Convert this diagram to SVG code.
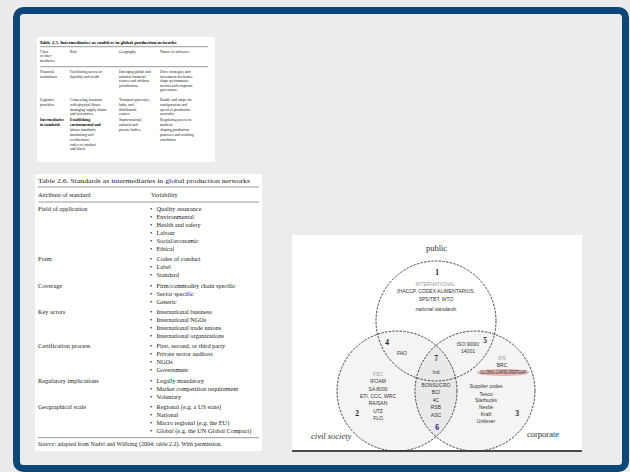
<svg xmlns="http://www.w3.org/2000/svg" width="630" height="472" viewBox="0 0 630 472">
<defs>
<style>
.t1{font-family:"Liberation Serif","Times New Roman",serif;font-size:3.8px;fill:#222}
.t1b{font-family:"Liberation Serif","Times New Roman",serif;font-size:3.8px;fill:#000;font-weight:bold}
.t2{font-family:"Liberation Serif","Times New Roman",serif;font-size:6.3px;fill:#222}
.rule{stroke:#555;stroke-width:0.6}
.vt{font-family:"Liberation Sans",Arial,sans-serif;font-size:5px;fill:#333;text-anchor:middle}
.vg{font-family:"Liberation Sans",Arial,sans-serif;font-size:5px;fill:#999;text-anchor:middle}
.num{font-family:"Liberation Serif","Times New Roman",serif;font-size:7.5px;font-weight:bold;fill:#222;text-anchor:middle}
.lab{font-family:"Liberation Serif","Times New Roman",serif;font-size:8.5px;fill:#333}
.circ{stroke:#333;stroke-width:0.9;stroke-dasharray:2.5 1.2}
</style>
</defs>
<rect x="0" y="0" width="630" height="472" fill="#ebebeb"/>
<rect id="frame" x="16.5" y="10.5" width="609" height="458" rx="7" fill="#ececec" stroke="#0d4777" stroke-width="7"/>

<g id="table1">
<rect x="37" y="37" width="178" height="125" fill="#ffffff"/>
<text class="t1b" x="39.5" y="43.7" textLength="137" lengthAdjust="spacingAndGlyphs" font-weight="normal">Table 2.5. Intermediaries as enablers in global production networks</text>
<line class="rule" x1="40" y1="46.7" x2="208" y2="46.7"/>
<text class="t1" x="40" y="53">Class</text>
<text class="t1" x="40" y="57.4">of inter-</text>
<text class="t1" x="40" y="62">mediaries</text>
<text class="t1" x="70" y="53">Role</text>
<text class="t1" x="119" y="53">Geography</text>
<text class="t1" x="160" y="53">Nature of influence</text>
<line class="rule" x1="40" y1="66.7" x2="208" y2="66.7"/>
<text class="t1" x="40" y="73">Financial</text>
<text class="t1" x="40" y="77.6">institutions</text>
<text class="t1" x="70" y="73">Facilitating access to</text>
<text class="t1" x="70" y="77.6">liquidity and credit</text>
<text class="t1" x="119" y="73">Emerging global and</text>
<text class="t1" x="119" y="77.6">national financial</text>
<text class="t1" x="119" y="82.2">centres and offshore</text>
<text class="t1" x="119" y="86.8">jurisdictions</text>
<text class="t1" x="160" y="73">Drive strategies and</text>
<text class="t1" x="160" y="77.6">investment decisions;</text>
<text class="t1" x="160" y="82.2">shape performance</text>
<text class="t1" x="160" y="86.8">metrics and corporate</text>
<text class="t1" x="160" y="91.4">governance</text>
<text class="t1" x="40" y="101.3">Logistics</text>
<text class="t1" x="40" y="105.9">providers</text>
<text class="t1" x="70" y="101.3">Connecting locations</text>
<text class="t1" x="70" y="105.9">with physical flows;</text>
<text class="t1" x="70" y="110.5">managing supply chains</text>
<text class="t1" x="70" y="115.1">and inventories</text>
<text class="t1" x="119" y="101.3">Transport gateways,</text>
<text class="t1" x="119" y="105.9">hubs, and</text>
<text class="t1" x="119" y="110.5">distribution</text>
<text class="t1" x="119" y="115.1">centres</text>
<text class="t1" x="160" y="101.3">Enable and shape the</text>
<text class="t1" x="160" y="105.9">configuration and</text>
<text class="t1" x="160" y="110.5">speed of production</text>
<text class="t1" x="160" y="115.1">networks</text>
<text class="t1b" x="40" y="121.3">Intermediaries</text>
<text class="t1b" x="40" y="126.15">in standards</text>
<text class="t1b" x="70" y="121.3">Establishing</text>
<text class="t1b" x="70" y="126.15">environmental and</text>
<text class="t1" x="70" y="131">labour standards;</text>
<text class="t1" x="70" y="135.85">monitoring and</text>
<text class="t1" x="70" y="140.7">certification;</text>
<text class="t1" x="70" y="145.55">codes of conduct</text>
<text class="t1" x="70" y="150.4">and labels</text>
<text class="t1" x="119" y="121.3">Supra-national,</text>
<text class="t1" x="119" y="126.15">national and</text>
<text class="t1" x="119" y="131">private bodies</text>
<text class="t1" x="160" y="121.3">Regulating access to</text>
<text class="t1" x="160" y="126.15">markets;</text>
<text class="t1" x="160" y="131">shaping production</text>
<text class="t1" x="160" y="135.85">practices and working</text>
<text class="t1" x="160" y="140.7">conditions</text>
</g>

<g id="table2">
<rect x="35" y="174" width="227" height="277" fill="#ffffff"/>
<text class="t2" x="38" y="182.5" font-size="6.8" textLength="212" lengthAdjust="spacingAndGlyphs">Table 2.6.  Standards as intermediaries in global production networks</text>
<line class="rule" x1="38" y1="187" x2="259" y2="187"/>
<text class="t2" x="38" y="196.5">Attribute of standard</text>
<text class="t2" x="151" y="196.5">Variability</text>
<line class="rule" x1="38" y1="202" x2="259" y2="202"/>
<text class="t2" x="38" y="211.2">Field of application</text>
<text class="t2" x="38" y="261.3">Form</text>
<text class="t2" x="38" y="287.7">Coverage</text>
<text class="t2" x="38" y="314.1">Key actors</text>
<text class="t2" x="38" y="348.4">Certification process</text>
<text class="t2" x="38" y="382.7">Regulatory implications</text>
<text class="t2" x="38" y="409.1">Geographical scale</text>
<g class="t2">
<text x="150" y="211.2">•</text><text x="156.5" y="211.2">Quality assurance</text>
<text x="150" y="219.1">•</text><text x="156.5" y="219.1">Environmental</text>
<text x="150" y="227">•</text><text x="156.5" y="227">Health and safety</text>
<text x="150" y="234.9">•</text><text x="156.5" y="234.9">Labour</text>
<text x="150" y="242.8">•</text><text x="156.5" y="242.8">Social/economic</text>
<text x="150" y="250.7">•</text><text x="156.5" y="250.7">Ethical</text>
<text x="150" y="261.3">•</text><text x="156.5" y="261.3">Codes of conduct</text>
<text x="150" y="269.2">•</text><text x="156.5" y="269.2">Label</text>
<text x="150" y="277.1">•</text><text x="156.5" y="277.1">Standard</text>
<text x="150" y="287.7">•</text><text x="156.5" y="287.7">Firm/commodity chain specific</text>
<text x="150" y="295.6">•</text><text x="156.5" y="295.6">Sector specific</text>
<text x="150" y="303.5">•</text><text x="156.5" y="303.5">Generic</text>
<text x="150" y="314.1">•</text><text x="156.5" y="314.1">International business</text>
<text x="150" y="322">•</text><text x="156.5" y="322">International NGOs</text>
<text x="150" y="329.9">•</text><text x="156.5" y="329.9">International trade unions</text>
<text x="150" y="337.8">•</text><text x="156.5" y="337.8">International organizations</text>
<text x="150" y="348.4">•</text><text x="156.5" y="348.4">First, second, or third party</text>
<text x="150" y="356.3">•</text><text x="156.5" y="356.3">Private sector auditors</text>
<text x="150" y="364.2">•</text><text x="156.5" y="364.2">NGOs</text>
<text x="150" y="372.1">•</text><text x="156.5" y="372.1">Government</text>
<text x="150" y="382.7">•</text><text x="156.5" y="382.7">Legally mandatory</text>
<text x="150" y="390.6">•</text><text x="156.5" y="390.6">Market competition requirement</text>
<text x="150" y="398.5">•</text><text x="156.5" y="398.5">Voluntary</text>
<text x="150" y="409.1">•</text><text x="156.5" y="409.1">Regional (e.g. a US state)</text>
<text x="150" y="417">•</text><text x="156.5" y="417">National</text>
<text x="150" y="424.9">•</text><text x="156.5" y="424.9">Macro regional (e.g. the EU)</text>
<text x="150" y="432.8">•</text><text x="156.5" y="432.8">Global (e.g. the UN Global Compact)</text>
</g>
<line class="rule" x1="38" y1="437.7" x2="259" y2="437.7"/>
<text class="t2" x="38" y="446.2" font-size="5.4" textLength="184" lengthAdjust="spacingAndGlyphs"><tspan font-style="italic">Source</tspan>: adapted from Nadvi and Wältring (2004: table 2.2). With permission.</text>
</g>

<g id="venn">
<rect x="292" y="235" width="290" height="216" fill="#ffffff"/>
<line x1="292" y1="451" x2="582" y2="451" stroke="#111" stroke-width="1.3"/>
<g id="civil-society">
<circle class="circ" cx="397" cy="391" r="60" fill="#000" fill-opacity="0.045"/>
<text class="lab" x="311" y="438.5" font-style="italic">civil society</text>
<text class="num" x="357" y="415.7">2</text>
<text class="vg" x="378" y="376">FSC</text>
<text class="vt" x="378" y="383.4">IFOAM</text>
<text class="vt" x="378" y="390.7">SA 8000</text>
<text class="vt" x="378" y="398">ETI, CCC, WRC</text>
<text class="vt" x="378" y="405.4">RA/SAN</text>
<text class="vt" x="378" y="412.7">UTZ</text>
<text class="vt" x="378" y="420">FLO</text>
</g>
<g id="corporate">
<circle class="circ" cx="475" cy="391" r="60" fill="#000" fill-opacity="0.045"/>
<text class="lab" x="527" y="437">corporate</text>
<text class="num" x="517" y="416">3</text>
<ellipse cx="503" cy="372.5" rx="26" ry="3.6" fill="#e08a8a" fill-opacity="0.6"/>
<text class="vg" x="502" y="360">IFS</text>
<text class="vt" x="502" y="367.4">BRC</text>
<text class="vt" x="503" y="374.3" font-size="4.2" textLength="46" lengthAdjust="spacingAndGlyphs">GLOBALGAP/EUREPGAP</text>
<text class="vt" x="486" y="388.4">Supplier codes</text>
<text class="vt" x="486" y="395.7">Tesco</text>
<text class="vt" x="486" y="402.4">Starbucks</text>
<text class="vt" x="486" y="409">Nestle</text>
<text class="vt" x="486" y="416">Kraft</text>
<text class="vt" x="486" y="423.4">Unilever</text>
</g>
<g id="public">
<circle class="circ" cx="436" cy="321" r="60" fill="none"/>
<text class="lab" x="436.5" y="251" text-anchor="middle">public</text>
<text class="num" x="437" y="274.7">1</text>
<text class="vg" x="436" y="285.7">INTERNATIONAL:</text>
<text class="vt" x="436" y="293.2">(HACCP, CODEX ALIMENTARIUS,</text>
<text class="vt" x="436" y="300.7">SPS/TBT, WTO</text>
<text class="vt" x="436" y="310.7" font-style="italic">national standards</text>
</g>
<g id="region4">
<text class="num" x="387" y="344.7">4</text>
<text class="vt" x="402" y="355">FAO</text>
</g>
<g id="region5">
<text class="num" x="485" y="342.7">5</text>
<text class="vt" x="468" y="346">ISO 9000/</text>
<text class="vt" x="468" y="353.4">14001</text>
</g>
<g id="region7">
<text class="num" x="436" y="360.7">7</text>
<text class="vt" x="436" y="373.8">Ind</text>
</g>
<g id="region6">
<text class="vt" x="436" y="386.7">BONSUCRO</text>
<text class="vt" x="436" y="394.4">BCI</text>
<text class="vt" x="436" y="401.7">4C</text>
<text class="vt" x="436" y="409">RSB</text>
<text class="vt" x="436" y="416.7">ASC</text>
<text class="num" x="437" y="429.7">6</text>
</g>
</g>
</svg>
